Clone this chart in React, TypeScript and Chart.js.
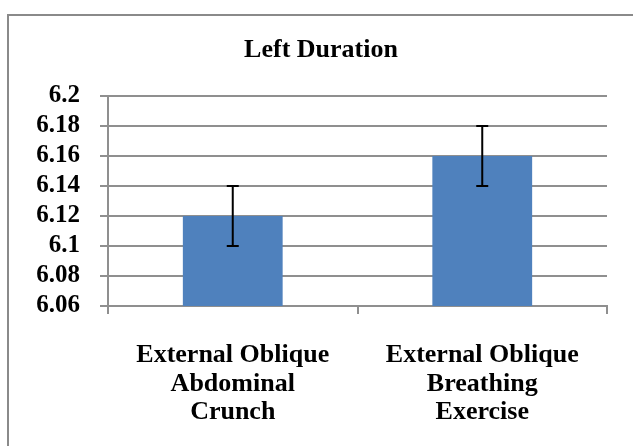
import React, { useEffect, useRef } from "react";
import { Chart, registerables } from "chart.js";

Chart.register(...registerables);

const chartTitle = "Left Duration";
const categories: string[][] = [
  ["External Oblique", "Abdominal", "Crunch"],
  ["External Oblique", "Breathing", "Exercise"],
];
const meanValues = [6.12, 6.16];
const errorValues = [0.02, 0.02];
const yTickValues = [6.06, 6.08, 6.1, 6.12, 6.14, 6.16, 6.18, 6.2];
const yTickLabels = ["6.06", "6.08", "6.1", "6.12", "6.14", "6.16", "6.18", "6.2"];

const FONT = "'Liberation Serif', 'Times New Roman', serif";
const GRID = "#8f8f8f";

const framePlugin = {
  id: "frameAndTitle",
  beforeDraw(chart: any) {
    const ctx = chart.ctx;
    ctx.save();
    ctx.fillStyle = "#ffffff";
    ctx.fillRect(0, 0, chart.width, chart.height);
    ctx.strokeStyle = "#8a8a8a";
    ctx.lineWidth = 2;
    ctx.strokeRect(8, 15, 640, 460);
    ctx.fillStyle = "#000000";
    ctx.font = `bold 26px ${FONT}`;
    ctx.textAlign = "center";
    ctx.textBaseline = "alphabetic";
    ctx.fillText(chartTitle, 321, 57);
    ctx.restore();
  },
};

const errorBarPlugin = {
  id: "errorBars",
  afterDatasetsDraw(chart: any) {
    const ctx = chart.ctx;
    const meta = chart.getDatasetMeta(0);
    const y = chart.scales.y;
    ctx.save();
    ctx.strokeStyle = "#000000";
    ctx.lineWidth = 2;
    meta.data.forEach((bar: any, i: number) => {
      const x = bar.x;
      const top = y.getPixelForValue(meanValues[i] + errorValues[i]);
      const bottom = y.getPixelForValue(meanValues[i] - errorValues[i]);
      ctx.beginPath();
      ctx.moveTo(x, top);
      ctx.lineTo(x, bottom);
      ctx.moveTo(x - 6, top);
      ctx.lineTo(x + 6, top);
      ctx.moveTo(x - 6, bottom);
      ctx.lineTo(x + 6, bottom);
      ctx.stroke();
    });
    ctx.restore();
  },
};

export default function App() {
  const ref = useRef<HTMLCanvasElement | null>(null);
  useEffect(() => {
    if (!ref.current) return;
    const chart = new Chart(ref.current, {
      type: "bar",
      data: {
        labels: categories as any,
        datasets: [
          {
            data: meanValues,
            backgroundColor: "#4f81bd",
            borderWidth: 0,
            barPercentage: 0.4,
            categoryPercentage: 1,
          },
        ],
      },
      options: {
        animation: false,
        responsive: false,
        devicePixelRatio: 1,
        layout: { padding: { top: 96, right: 26, left: 0, bottom: 0 } },
        plugins: {
          legend: { display: false },
          title: { display: false },
          tooltip: { enabled: false },
        },
        scales: {
          x: {
            offset: true,
            grid: {
              display: true,
              drawOnChartArea: false,
              drawTicks: true,
              tickLength: 8,
              offset: true,
              color: GRID,
              lineWidth: 2,
            },
            border: { display: true, color: GRID, width: 2 },
            ticks: {
              color: "#000000",
              font: { family: FONT, size: 26, weight: "bold", lineHeight: 1.1 },
              padding: 27,
              maxRotation: 0,
              autoSkip: false,
            },
            afterFit(scale: any) {
              scale.height = 140;
            },
          },
          y: {
            min: 6.06,
            max: 6.2,
            beginAtZero: false,
            grid: {
              color: GRID,
              lineWidth: 2,
              drawTicks: true,
              tickLength: 8,
            },
            border: { display: true, color: GRID, width: 2 },
            ticks: {
              color: "#000000",
              font: { family: FONT, size: 25, weight: "bold" },
              padding: 20,
              autoSkip: false,
              callback: (_v: any, i: number) => yTickLabels[i],
            },
            afterBuildTicks(scale: any) {
              scale.ticks = yTickValues.map((v) => ({ value: v }));
            },
            afterFit(scale: any) {
              scale.width = 108;
            },
          },
        },
      },
      plugins: [framePlugin, errorBarPlugin],
    });
    return () => chart.destroy();
  }, []);
  return (
    <div style={{ position: "absolute", left: 0, top: 0, width: 633, height: 446 }}>
      <canvas ref={ref} width={633} height={446} style={{ display: "block" }} />
    </div>
  );
}
